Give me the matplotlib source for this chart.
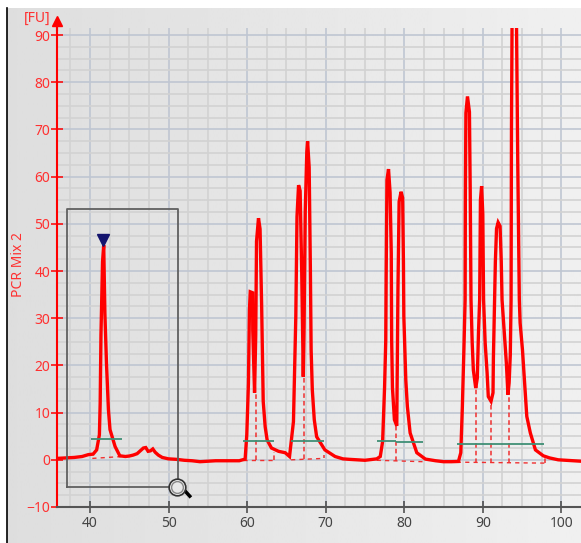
import matplotlib
matplotlib.use("Agg")
import matplotlib.pyplot as plt
import numpy as np

plt.rcParams['font.family'] = ['Noto Sans', 'DejaVu Sans']

# electropherogram trace, one pair of lists per stretch
x_a = [35.8, 37, 38, 39, 39.8, 40.4, 40.85, 41.2, 41.3, 41.4, 41.6, 41.75, 41.9, 42.1, 42.35, 42.55]
y_a = [0.3, 0.4, 0.5, 0.7, 1.1, 1.2, 2.1, 5.3, 12.1, 26.5, 42, 45.5, 31, 20.5, 10.6, 6.4]

x_b = [43.2, 43.8, 44.5, 45, 45.5, 46, 46.4, 46.8, 47.1, 47.4, 47.7, 48, 48.3, 48.7]
y_b = [2.8, 0.85, 0.7, 0.8, 1, 1.3, 1.9, 2.5, 2.6, 1.8, 1.9, 2.3, 1.6, 1]

x_c = [49.2, 50, 51, 52, 53, 54, 55, 56, 57, 58, 59, 59.75]
y_c = [0.5, 0.2, 0.1, -0.1, -0.2, -0.4, -0.3, -0.2, -0.2, -0.2, -0.2, 0.15]

x_d = [59.96, 60.17, 60.3, 60.4, 60.7, 60.72, 60.95, 61.1, 61.2, 61.45, 61.65, 61.85, 61.95, 62.05]
y_d = [5.3, 16.2, 31.8, 35.6, 35.4, 27.5, 14.2, 26.5, 46.3, 51.2, 48.9, 32.8, 22, 12.4]

x_e = [62.3, 62.55, 63.1, 64, 64.85, 65.4]
y_e = [7, 4.2, 2.5, 1.8, 1.5, 0.7]

x_f = [65.9, 66.2, 66.35, 66.55, 66.75, 66.95, 67.05, 67.15, 67.25, 67.4, 67.6, 67.7, 67.9, 68.05]
y_f = [8.1, 30.4, 51.5, 58.2, 57, 40, 28, 17.6, 28, 52.6, 65.3, 67.5, 62, 41]

x_g = [68.15, 68.3, 68.55, 68.85, 69.9, 71.2, 72.2, 73, 75, 76.5]
y_g = [23.3, 14.8, 8.5, 4.9, 2.1, 0.7, 0.2, 0.1, -0.1, 0.2]

x_h = [76.95, 77.25, 77.5, 77.65, 77.7, 77.8, 78, 78.2, 78.35, 78.4, 78.5, 78.75, 79.05, 79.1, 79.2, 79.35, 79.6, 79.8, 79.9, 79.95]
y_h = [0.7, 3.9, 15.5, 25.4, 38.8, 59.3, 61.6, 56.6, 43.8, 25.4, 15.3, 8.5, 7.2, 16.2, 36, 54.7, 56.8, 55.5, 41.6, 30.4]

x_i = [80.2, 80.4, 80.75, 81.6, 82.7, 84, 85, 86, 86.9]
y_i = [16.9, 11.3, 5.7, 1.5, 0.15, -0.2, -0.4, -0.4, -0.35]

x_j = [87.2, 87.4, 87.6, 87.75, 87.78, 87.85, 88.05, 88.3, 88.4, 88.5, 88.65, 88.8, 89.1, 89.3, 89.45, 89.6, 89.7, 89.85, 90.0, 90.1,
       90.3, 90.55, 90.7, 91.05, 91.3, 91.35, 91.5, 91.6, 91.75, 91.95, 92.2, 92.35, 92.45, 92.75, 93, 93.2]
y_j = [1.5, 11.3, 23.7, 33.9, 55, 73.5, 77, 73.7, 57, 33.9, 24.8, 19, 15.2, 17.3, 26.9, 33.9, 55, 58, 52, 33.9,
       24.8, 18.4, 13.4, 12.4, 14.2, 21.6, 33.9, 42, 49, 50.3, 49.5, 42, 33.9, 26.5, 20.5, 13.8]

x_k = [93.35, 93.5, 93.6, 93.65, 93.75, 94.25, 94.45, 94.65, 94.75]
y_k = [16.3, 22.2, 33.9, 70, 100, 100, 63, 33.9, 29]

x_l = [95.05, 95.3, 95.6, 96.05, 96.7, 97.7, 98.5, 99.6, 100.5, 101.5, 102.5]
y_l = [23.3, 16.9, 9.2, 5.7, 2.1, 0.85, 0.4, 0, -0.1, -0.2, -0.3]

trace_x = x_a + x_b + x_c + x_d + x_e + x_f + x_g + x_h + x_i + x_j + x_k + x_l
trace_y = y_a + y_b + y_c + y_d + y_e + y_f + y_g + y_h + y_i + y_j + y_k + y_l

# peak bounds and baselines
green_x0 = [40.1, 59.5, 65.6, 76.5, 79.0, 86.7]
green_x1 = [44.1, 63.4, 69.8, 78.9, 82.4, 97.8]
green_y = [4.4, 3.9, 3.9, 3.9, 3.7, 3.4]

base_x0 = [40.3, 59.5, 65.6, 76.5, 86.7]
base_x1 = [44.1, 63.4, 69.8, 82.4, 97.9]
base_y0 = [0.3, -0.1, 0.0, -0.1, -0.5]
base_y1 = [0.7, -0.1, 0.3, -0.4, -0.7]

split_x = [61.1, 67.3, 79.0, 89.1, 91.0, 93.3, 63.4, 69.8, 97.9]
split_top = [14.2, 17.6, 7.2, 15.2, 12.4, 13.8, 1.6, 1.0, 1.0]
split_bottom = [-0.1, 0.1, -0.3, -0.6, -0.6, -0.7, -0.1, 0.3, -0.7]

# selection box and peak marker
box_x = [37.07, 51.2]
box_y = [-5.7, 53.2]
marker_x = 41.7
marker_y = 46.6

x_ticks = [40, 50, 60, 70, 80, 90, 100]
y_ticks = [-10, 0, 10, 20, 30, 40, 50, 60, 70, 80, 90]

fig = plt.figure(figsize=(5.81, 5.43), dpi=100)

# background gradient of the window
bg = fig.add_axes([0, 0, 1, 1], zorder=0)
grad = np.linspace(0.87, 0.94, 256).reshape(1, -1)
bg.imshow(grad, aspect='auto', cmap='gray', vmin=0, vmax=1, extent=[7 / 581, 1, 0, 535 / 543])
bg.set_xlim(0, 1)
bg.set_ylim(0, 1)
bg.axis('off')
bg.axvline(7 / 581, ymin=0, ymax=535 / 543, color='black', lw=1.2)

ax = fig.add_axes([56.5 / 581, 36 / 543, 524.5 / 581, 479 / 543], zorder=1)
ax.patch.set_alpha(0)
ax.set_xlim(35.74, 102.5)
ax.set_ylim(-10, 91.5)

ax.set_xticks(x_ticks)
ax.set_yticks(y_ticks)
ax.set_xticks(np.arange(37.5, 102.5, 2.5), minor=True)
ax.set_yticks(np.arange(-10, 91, 2.5), minor=True)
ax.grid(which='minor', color='#d2d2d2', lw=1.2, zorder=1)
ax.grid(which='major', color='#bfc6d2', lw=1.2, zorder=1.2)
ax.tick_params(which='minor', length=0)
ax.tick_params(axis='x', which='major', direction='inout', length=9, width=1.1, color='#444444',
               labelcolor='#444444', labelsize=10, pad=2)
ax.tick_params(axis='y', which='major', direction='inout', length=9, width=1.1, color='red',
               labelcolor='#ff3030', labelsize=10, pad=0)

for s in ['top', 'right']:
    ax.spines[s].set_visible(False)
ax.spines['left'].set_color('red')
ax.spines['left'].set_linewidth(1.5)
ax.spines['bottom'].set_color('#555555')
ax.spines['bottom'].set_linewidth(1.5)

ax.plot(trace_x, trace_y, color='red', lw=2.4, zorder=4, solid_joinstyle='miter')

ax.hlines(green_y, green_x0, green_x1, color='#3f8f75', lw=1.3, zorder=4.5)
for x0, x1, y0, y1 in zip(base_x0, base_x1, base_y0, base_y1):
    ax.plot([x0, x1], [y0, y1], color='#f03030', lw=1, ls=(0, (3, 3)), zorder=3)
ax.vlines(split_x, split_bottom, split_top, color='#f03030', lw=1.1, linestyles=[(0, (3, 2))], zorder=3)

ax.plot([box_x[0], box_x[1], box_x[1], box_x[0], box_x[0]],
        [box_y[0], box_y[0], box_y[1], box_y[1], box_y[0]], color='#606060', lw=1.3, zorder=5)

ax.plot([marker_x], [marker_y], marker='v', color='#14146e', ms=8, zorder=6, clip_on=False)

# magnifier at the box corner
ax.plot([box_x[1] + 0.9, box_x[1] + 1.5], [box_y[0] - 0.9, box_y[0] - 2.0], color='black', lw=2.5, zorder=6)
ax.plot([box_x[1] - 0.1], [box_y[0]], marker='o', ms=12, mfc='#e8e8e8', mec='#333333', mew=1.2, zorder=7)
ax.plot([box_x[1] - 0.1], [box_y[0]], marker='o', ms=8.5, mfc='none', mec='#888888', mew=1, zorder=8)

# red arrow on top of the y axis
ax.plot([35.74], [93], marker='^', color='red', ms=6.5, clip_on=False, zorder=6)
ax.plot([35.74, 35.74], [91, 93], color='red', lw=1.5, clip_on=False, zorder=6)

fig.text(37 / 581, 1 - 18 / 543, '[FU]', color='#ff3030', fontsize=10, ha='center', va='center')
fig.text(18 / 581, 1 - 265 / 543, 'PCR Mix 2', color='#ff3030', fontsize=10, rotation=90, ha='center', va='center')

fig.savefig('out.png', dpi=100)
